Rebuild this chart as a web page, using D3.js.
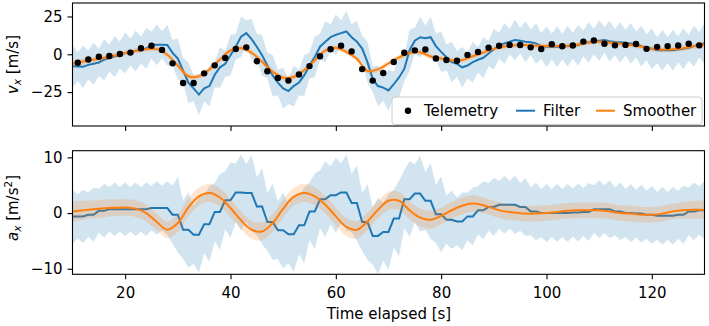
<!DOCTYPE html>
<html>
<head>
<meta charset="utf-8">
<script src="https://cdnjs.cloudflare.com/ajax/libs/d3/7.8.5/d3.min.js"></script>
<style>
  body { margin: 0; background: #fff; }
  svg { font-family: "DejaVu Sans", sans-serif; }
</style>
</head>
<body>
<div id="chart"></div>
<script>

// ---- data ----
const xTicks = [20, 40, 60, 80, 100, 120];
const vTicks = [-25, 0, 25];
const aTicks = [-10, 0, 10];

// telemetry: one fix every 2 s
const telemetryTime = d3.range(11, 130, 2);
const telemetryV = [-5.6, -3.4, -1.6, -1.1, 0.2, 1.1, 4.0, 5.6, 2.9, -6.0,
	-19.0, -19.0, -12.6, -7.3, -2.4, 3.5, 4.6, -4.6, -11.2, -15.6,
	-17.4, -13.4, -7.8, -1.3, 3.3, 5.7, 1.9, -9.8, -17.4, -12.4,
	-5.1, 1.0, 2.6, 3.2, -2.8, -3.8, -4.3, -0.4, 1.5, 4.3,
	5.6, 6.2, 6.1, 4.6, 3.5, 6.6, 5.3, 5.8, 8.4, 9.1,
	7.0, 5.9, 6.2, 6.8, 3.6, 4.9, 5.4, 5.8, 7.0, 5.9];

// filter: state after each update (filterTime) and 1 s later after prediction
const filterTime = d3.range(9, 130, 2);
const filterV = [-7.8, -8.1, -7.0, -5.4, -2.5, -0.5, 1.4, 2.7, 6.1, 6.3,
	0.9, -10.8, -22.5, -22.5, -13.5, -6.3, 5.0, 14.0, 5.0, -7.4,
	-18.7, -24.3, -18.7, -7.4, 5.0, 11.3, 14.0, 11.3, 3.8, -16.4,
	-22.0, -19.8, -9.7, 9.0, 10.6, 5.4, -2.0, -6.3, -7.4, -3.6,
	0.5, 5.6, 8.3, 9.0, 7.9, 5.4, 5.0, 5.0, 5.5, 7.2,
	8.3, 9.5, 8.1, 7.7, 6.5, 4.5, 2.7, 2.7, 3.2, 4.3,
	6.3];
const filterVPred = [-7.9, -8.3, -6.3, -3.6, -1.4, 0.9, 2.3, 3.8, 6.3, 6.1,
	-2.9, -18.7, -26.6, -21.0, -8.6, -0.7, 11.7, 10.0, -0.7, -14.0,
	-22.5, -21.0, -14.0, -1.8, 8.3, 12.8, 15.1, 8.3, -5.2, -21.0,
	-23.9, -15.3, 2.7, 11.3, 11.3, 1.6, -5.2, -8.6, -5.2, -2.3,
	3.4, 7.2, 9.5, 8.3, 7.2, 5.0, 5.0, 5.4, 6.1, 7.9,
	9.0, 8.6, 7.9, 7.2, 5.4, 3.6, 2.7, 2.7, 3.6, 5.4,
	7.2];
const filterVBand = [9.5, 9.5, 9.5, 9.0, 9.0, 9.0, 9.0, 9.0, 9.0, 9.0,
	8.5, 8.5, 8.5, 8.5, 8.5, 8.5, 8.5, 8.5, 8.5, 8.5,
	8.5, 8.5, 8.5, 8.5, 8.5, 8.5, 8.5, 8.5, 8.5, 8.5,
	8.5, 8.5, 8.5, 8.5, 8.5, 8.5, 8.5, 8.5, 8.5, 8.5,
	8.5, 8.5, 8.5, 8.5, 8.5, 8.5, 8.5, 8.5, 8.5, 8.5,
	8.5, 8.5, 8.5, 8.5, 8.5, 8.5, 8.5, 8.5, 8.5, 8.5,
	8.5];
const filterVBandPred = [14.0, 14.0, 14.0, 13.5, 13.5, 13.5, 13.5, 13.5, 13.5, 13.5,
	13.5, 13.5, 13.5, 13.5, 13.5, 13.5, 13.5, 13.5, 13.5, 13.5,
	13.5, 13.5, 13.5, 13.5, 13.5, 13.5, 13.5, 13.5, 13.5, 13.5,
	13.5, 13.5, 13.5, 13.5, 13.5, 13.5, 13.5, 13.5, 13.5, 13.5,
	13.5, 13.5, 13.5, 13.5, 13.5, 13.5, 13.5, 13.5, 13.5, 13.5,
	13.5, 13.5, 13.5, 13.5, 13.5, 13.5, 13.5, 13.5, 13.5, 13.5,
	13.5];
const filterA = [-0.6, -0.6, -0.3, 0.4, 0.7, 0.7, 0.7, 0.7, 0.9, 0.9,
	-0.3, -3.0, -3.9, -2.0, 0.2, 2.3, 3.7, 3.6, 1.2, -1.6,
	-3.1, -3.8, -2.2, 0.3, 2.5, 3.2, 3.7, 1.8, -1.6, -4.1,
	-3.4, -1.0, 2.5, 3.5, 2.2, -0.2, -1.2, -1.5, -0.6, 0.5,
	1.1, 1.5, 1.5, 1.1, 0.3, 0.0, 0.0, 0.0, 0.1, 0.2,
	0.7, 0.7, 0.3, 0.0, -0.1, -0.3, -0.5, -0.5, -0.3, 0.3,
	0.5];
const filterABand = [4.0, 4.0, 4.0, 4.0, 4.0, 4.0, 4.0, 4.0, 4.0, 4.0,
	5.2, 5.2, 5.2, 5.2, 5.2, 5.2, 5.2, 5.2, 5.2, 5.2,
	5.2, 5.2, 5.2, 5.2, 5.2, 5.2, 5.2, 5.2, 5.2, 5.2,
	5.2, 5.2, 5.2, 5.2, 5.2, 5.2, 4.3, 4.3, 4.3, 4.3,
	4.3, 4.3, 4.3, 4.3, 4.3, 4.3, 4.3, 4.3, 4.3, 4.3,
	4.3, 4.3, 4.3, 4.3, 4.3, 4.3, 4.3, 4.3, 4.3, 4.3,
	4.3];
const filterABandPred = [4.8, 4.8, 4.8, 4.8, 4.8, 4.8, 4.8, 4.8, 4.8, 4.8,
	6.8, 6.8, 6.8, 6.8, 6.8, 6.8, 6.8, 6.8, 6.8, 6.8,
	6.8, 6.8, 6.8, 6.8, 6.8, 6.8, 6.8, 6.8, 6.8, 6.8,
	6.8, 6.8, 6.8, 6.8, 6.8, 6.8, 5.2, 5.2, 5.2, 5.2,
	5.2, 5.2, 5.2, 5.2, 5.2, 5.2, 5.2, 5.2, 5.2, 5.2,
	5.2, 5.2, 5.2, 5.2, 5.2, 5.2, 5.2, 5.2, 5.2, 5.2,
	5.2];

// smoother: every 2 s
const smootherTime = d3.range(10, 131, 2);
const smootherV = [-6.3, -4.8, -3.6, -2.3, -0.8, 0.8, 2.2, 3.3, 3.4, -0.3,
	-7.5, -14.5, -14.6, -10.0, -3.5, 2.5, 4.2, 1.0, -5.0, -11.5,
	-15.5, -15.0, -10.5, -4.0, 2.5, 4.3, 1.5, -3.0, -11.0, -10.0,
	-6.0, -2.0, 0.8, 1.4, -1.5, -2.8, -3.9, -3.8, -1.3, 1.2,
	3.6, 5.2, 6.0, 6.1, 5.6, 5.4, 5.4, 5.6, 6.5, 7.8,
	8.3, 7.6, 6.9, 6.2, 5.0, 3.6, 3.1, 3.3, 4.0, 5.4,
	6.5];
const smootherVBand = [2.4, 2.2, 2.0, 1.9, 1.8, 1.8, 1.7, 1.7, 1.7, 1.7,
	1.7, 1.7, 1.7, 1.7, 1.7, 1.7, 1.7, 1.7, 1.7, 1.7,
	1.7, 1.7, 1.7, 1.7, 1.7, 1.7, 1.7, 1.7, 1.7, 1.7,
	1.7, 1.7, 1.7, 1.7, 1.7, 1.7, 1.7, 1.7, 1.7, 1.7,
	1.7, 1.7, 1.7, 1.7, 1.7, 1.7, 1.7, 1.7, 1.7, 1.7,
	1.7, 1.7, 1.7, 1.7, 1.7, 1.7, 1.7, 1.8, 1.9, 2.1,
	2.3];
const smootherA = [0.3, 0.5, 0.7, 0.85, 0.95, 1.0, 0.8, 0.0, -1.6, -3.0,
	-1.8, 1.0, 3.0, 3.6, 2.8, 0.9, -1.3, -3.0, -3.3, -1.8,
	0.8, 2.9, 3.6, 3.0, 1.5, -0.6, -2.5, -3.0, -1.5, 0.6,
	2.2, 2.2, 0.5, -0.8, -1.2, -0.5, 0.5, 1.3, 1.7, 1.4,
	0.8, 0.3, 0.1, -0.1, -0.1, 0.0, 0.2, 0.4, 0.5, 0.5,
	0.5, 0.3, 0.0, -0.1, -0.3, -0.3, -0.1, 0.3, 0.5, 0.6,
	0.6];
const smootherABand = [1.8, 1.7, 1.6, 1.6, 1.5, 1.5, 1.5, 1.5, 1.5, 1.5,
	1.6, 1.6, 1.6, 1.6, 1.6, 1.6, 1.6, 1.6, 1.6, 1.6,
	1.6, 1.6, 1.6, 1.6, 1.6, 1.6, 1.6, 1.6, 1.6, 1.6,
	1.6, 1.6, 1.6, 1.6, 1.6, 1.5, 1.5, 1.5, 1.5, 1.4,
	1.4, 1.4, 1.4, 1.4, 1.4, 1.4, 1.4, 1.4, 1.4, 1.4,
	1.4, 1.4, 1.4, 1.4, 1.4, 1.4, 1.4, 1.4, 1.5, 1.6,
	1.7];

const blue = "#1f77b4", orange = "#ff7f0e";

// ---- layout ----
const width = 709, height = 326;
const svg = d3.select("#chart").append("svg")
	.attr("width", width)
	.attr("height", height);

const x = d3.scaleLinear().domain([10, 130]).range([72.5, 704.5]);
const yV = d3.scaleLinear().domain([-47.4, 33.9]).range([126, 3]);
const yA = d3.scaleLinear().domain([-11, 11.2]).range([274.3, 150.7]);

// filter samples: the update itself, then the 1 s prediction that follows
let filterPts = [];
filterTime.forEach((t, i) => {
	filterPts.push({t: t, v: filterV[i], vw: filterVBand[i], a: filterA[i], aw: filterABand[i]});
	filterPts.push({t: t + 1, v: filterVPred[i], vw: filterVBandPred[i], a: filterA[i], aw: filterABandPred[i]});
});
let smootherPts = smootherTime.map((t, i) => ({
	t: t, v: smootherV[i], vw: smootherVBand[i], a: smootherA[i], aw: smootherABand[i]
}));
let telemetryPts = telemetryTime.map((t, i) => ({t: t, v: telemetryV[i]}));

function drawPanel(y, key, id, ticks, showLabels) {
	let g = svg.append("g");
	let x0 = x.range()[0], x1 = x.range()[1];
	let y0 = y.range()[1], y1 = y.range()[0];

	svg.append("clipPath").attr("id", id)
		.append("rect")
		.attr("x", x0).attr("y", y0)
		.attr("width", x1 - x0).attr("height", y1 - y0);

	let plot = g.append("g").attr("clip-path", "url(#" + id + ")");
	let w = key + "w";

	let band = d3.area()
		.x(d => x(d.t))
		.y0(d => y(d[key] - d[w]))
		.y1(d => y(d[key] + d[w]));
	let line = d3.line()
		.x(d => x(d.t))
		.y(d => y(d[key]));

	plot.append("path").datum(filterPts)
		.attr("d", band)
		.attr("fill", blue)
		.attr("fill-opacity", 0.2);
	plot.append("path").datum(filterPts)
		.attr("d", line)
		.attr("fill", "none")
		.attr("stroke", blue)
		.attr("stroke-width", 2);

	plot.append("path").datum(smootherPts)
		.attr("d", band.curve(d3.curveCatmullRom))
		.attr("fill", orange)
		.attr("fill-opacity", 0.2);
	plot.append("path").datum(smootherPts)
		.attr("d", line.curve(d3.curveCatmullRom))
		.attr("fill", "none")
		.attr("stroke", orange)
		.attr("stroke-width", 2);

	// axes
	let xAxis = d3.axisBottom(x).tickValues(xTicks).tickSize(5).tickPadding(8).tickSizeOuter(0);
	if (!showLabels) xAxis.tickFormat("");
	g.append("g")
		.attr("transform", "translate(0," + y1 + ")")
		.call(xAxis)
		.call(s => s.select(".domain").remove());

	g.append("g")
		.attr("transform", "translate(" + x0 + ",0)")
		.call(d3.axisLeft(y).tickValues(ticks).tickSize(5).tickPadding(5).tickSizeOuter(0))
		.call(s => s.select(".domain").remove());

	g.selectAll(".tick line").attr("stroke", "#000").attr("stroke-width", 1.1);
	g.selectAll(".tick text")
		.attr("fill", "#000")
		.attr("font-size", 15)
		.attr("font-family", "DejaVu Sans, sans-serif");

	g.append("rect")
		.attr("x", x0).attr("y", y0)
		.attr("width", x1 - x0).attr("height", y1 - y0)
		.attr("fill", "none")
		.attr("stroke", "#000")
		.attr("stroke-width", 1.1);

	return plot;
}

let topPlot = drawPanel(yV, "v", "clip-v", vTicks, false);
drawPanel(yA, "a", "clip-a", aTicks, true);

topPlot.selectAll("circle")
	.data(telemetryPts)
	.enter()
	.append("circle")
	.attr("cx", d => x(d.t))
	.attr("cy", d => yV(d.v))
	.attr("r", 3.2)
	.attr("fill", "#000");

// axis labels
let vLabel = svg.append("text")
	.attr("transform", "translate(13,64.5) rotate(-90)")
	.attr("text-anchor", "middle")
	.attr("dy", "0.35em")
	.attr("font-size", 15);
vLabel.append("tspan").attr("font-style", "italic").text("v");
vLabel.append("tspan").attr("font-style", "italic").attr("font-size", 10.5).attr("dy", 3).text("x");
vLabel.append("tspan").attr("dy", -3).text(" [m/s]");

let aLabel = svg.append("text")
	.attr("transform", "translate(13,208) rotate(-90)")
	.attr("text-anchor", "middle")
	.attr("dy", "0.35em")
	.attr("font-size", 15);
aLabel.append("tspan").attr("font-style", "italic").text("a");
aLabel.append("tspan").attr("font-style", "italic").attr("font-size", 10.5).attr("dy", 3).text("x");
aLabel.append("tspan").attr("dy", -3).text(" [m/s");
aLabel.append("tspan").attr("font-size", 10.5).attr("dy", -6).text("2");
aLabel.append("tspan").attr("dy", 6).text("]");

svg.append("text")
	.attr("x", 389)
	.attr("y", 319)
	.attr("text-anchor", "middle")
	.attr("font-size", 15)
	.text("Time elapsed [s]");

// legend
let legend = svg.append("g").attr("transform", "translate(392,97)");
legend.append("rect")
	.attr("width", 310).attr("height", 27.5)
	.attr("rx", 3)
	.attr("fill", "#fff").attr("fill-opacity", 0.8)
	.attr("stroke", "#cccccc").attr("stroke-width", 1);
legend.append("circle").attr("cx", 16).attr("cy", 13.7).attr("r", 3.2).attr("fill", "#000");
legend.append("text").attr("x", 32).attr("y", 19).attr("font-size", 15).text("Telemetry");
legend.append("line").attr("x1", 124).attr("x2", 143).attr("y1", 13.7).attr("y2", 13.7)
	.attr("stroke", blue).attr("stroke-width", 2);
legend.append("text").attr("x", 151).attr("y", 19).attr("font-size", 15).text("Filter");
legend.append("line").attr("x1", 204).attr("x2", 223).attr("y1", 13.7).attr("y2", 13.7)
	.attr("stroke", orange).attr("stroke-width", 2);
legend.append("text").attr("x", 231).attr("y", 19).attr("font-size", 15).text("Smoother");

</script>
</body>
</html>
